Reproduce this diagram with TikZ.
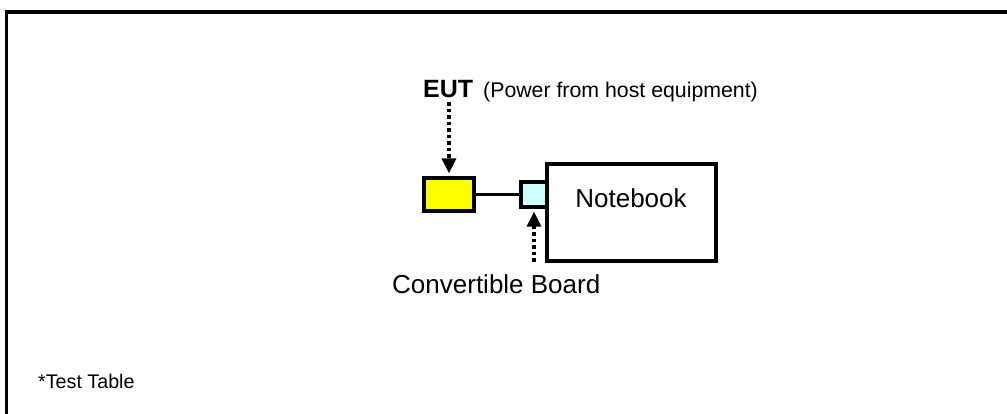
\documentclass[tikz,border=0pt]{standalone}
\usepackage{fontspec}
\setmainfont{Liberation Sans}
\usetikzlibrary{arrows.meta}
\definecolor{eutyellow}{RGB}{255, 255, 0}
\definecolor{boardcyan}{RGB}{204, 255, 255}

\begin{document}
\begin{tikzpicture}[x=1pt, y=-1pt,
            box/.style={draw=black, line width=3.2pt, inner sep=0pt},
            txt/.style={inner sep=0pt, anchor=base west},
            pointer/.style={line width=3.4pt, dash pattern=on 3.5pt off 3pt, -{Triangle[width=14pt, length=15pt]}}]
            \useasboundingbox                                                 (0, 0) rectangle (1007, 414);
            \draw[line width=3.6pt]                                           (1007, 12) -- (6.5, 12) -- (6.5, 414);
            \node[box, fill=eutyellow,  minimum width=50,  minimum height=33] (eut)      at (449.0, 194.5) {};
            \node[box, fill=boardcyan,  minimum width=26,  minimum height=25] (board)    at (534.0, 194.5) {};
            \node[box, fill=white,      minimum width=169, minimum height=97] (notebook) at (631.5, 212.5) {};
            \node[inner sep=0pt, anchor=base, font=\fontsize{26}{30}\selectfont] (nbtext) at (631, 208) {Notebook};
            \node[txt, font=\fontsize{25}{30}\selectfont\bfseries]            (eutlbl)   at (423, 98)  {EUT};
            \node[txt, font=\fontsize{21.3}{26}\selectfont]                   (powerlbl) at (483, 98)  {(Power from host equipment)};
            \node[txt, font=\fontsize{26}{30}\selectfont]                     (boardlbl) at (392, 293) {Convertible Board};
            \node[txt, font=\fontsize{19.7}{24}\selectfont]                   (tablelbl) at (38, 388)  {*Test Table};
            \draw[line width=3.2pt]                                           (eut.east) -- (board.west);
            \draw[pointer, shorten <=4pt, shorten >=3pt]                      (eut.north |- eutlbl.south) -- (eut.north);
            \draw[pointer, shorten <=12pt, shorten >=3pt]                     (board.south |- boardlbl.north) -- (board.south);
\end{tikzpicture}
\end{document}
